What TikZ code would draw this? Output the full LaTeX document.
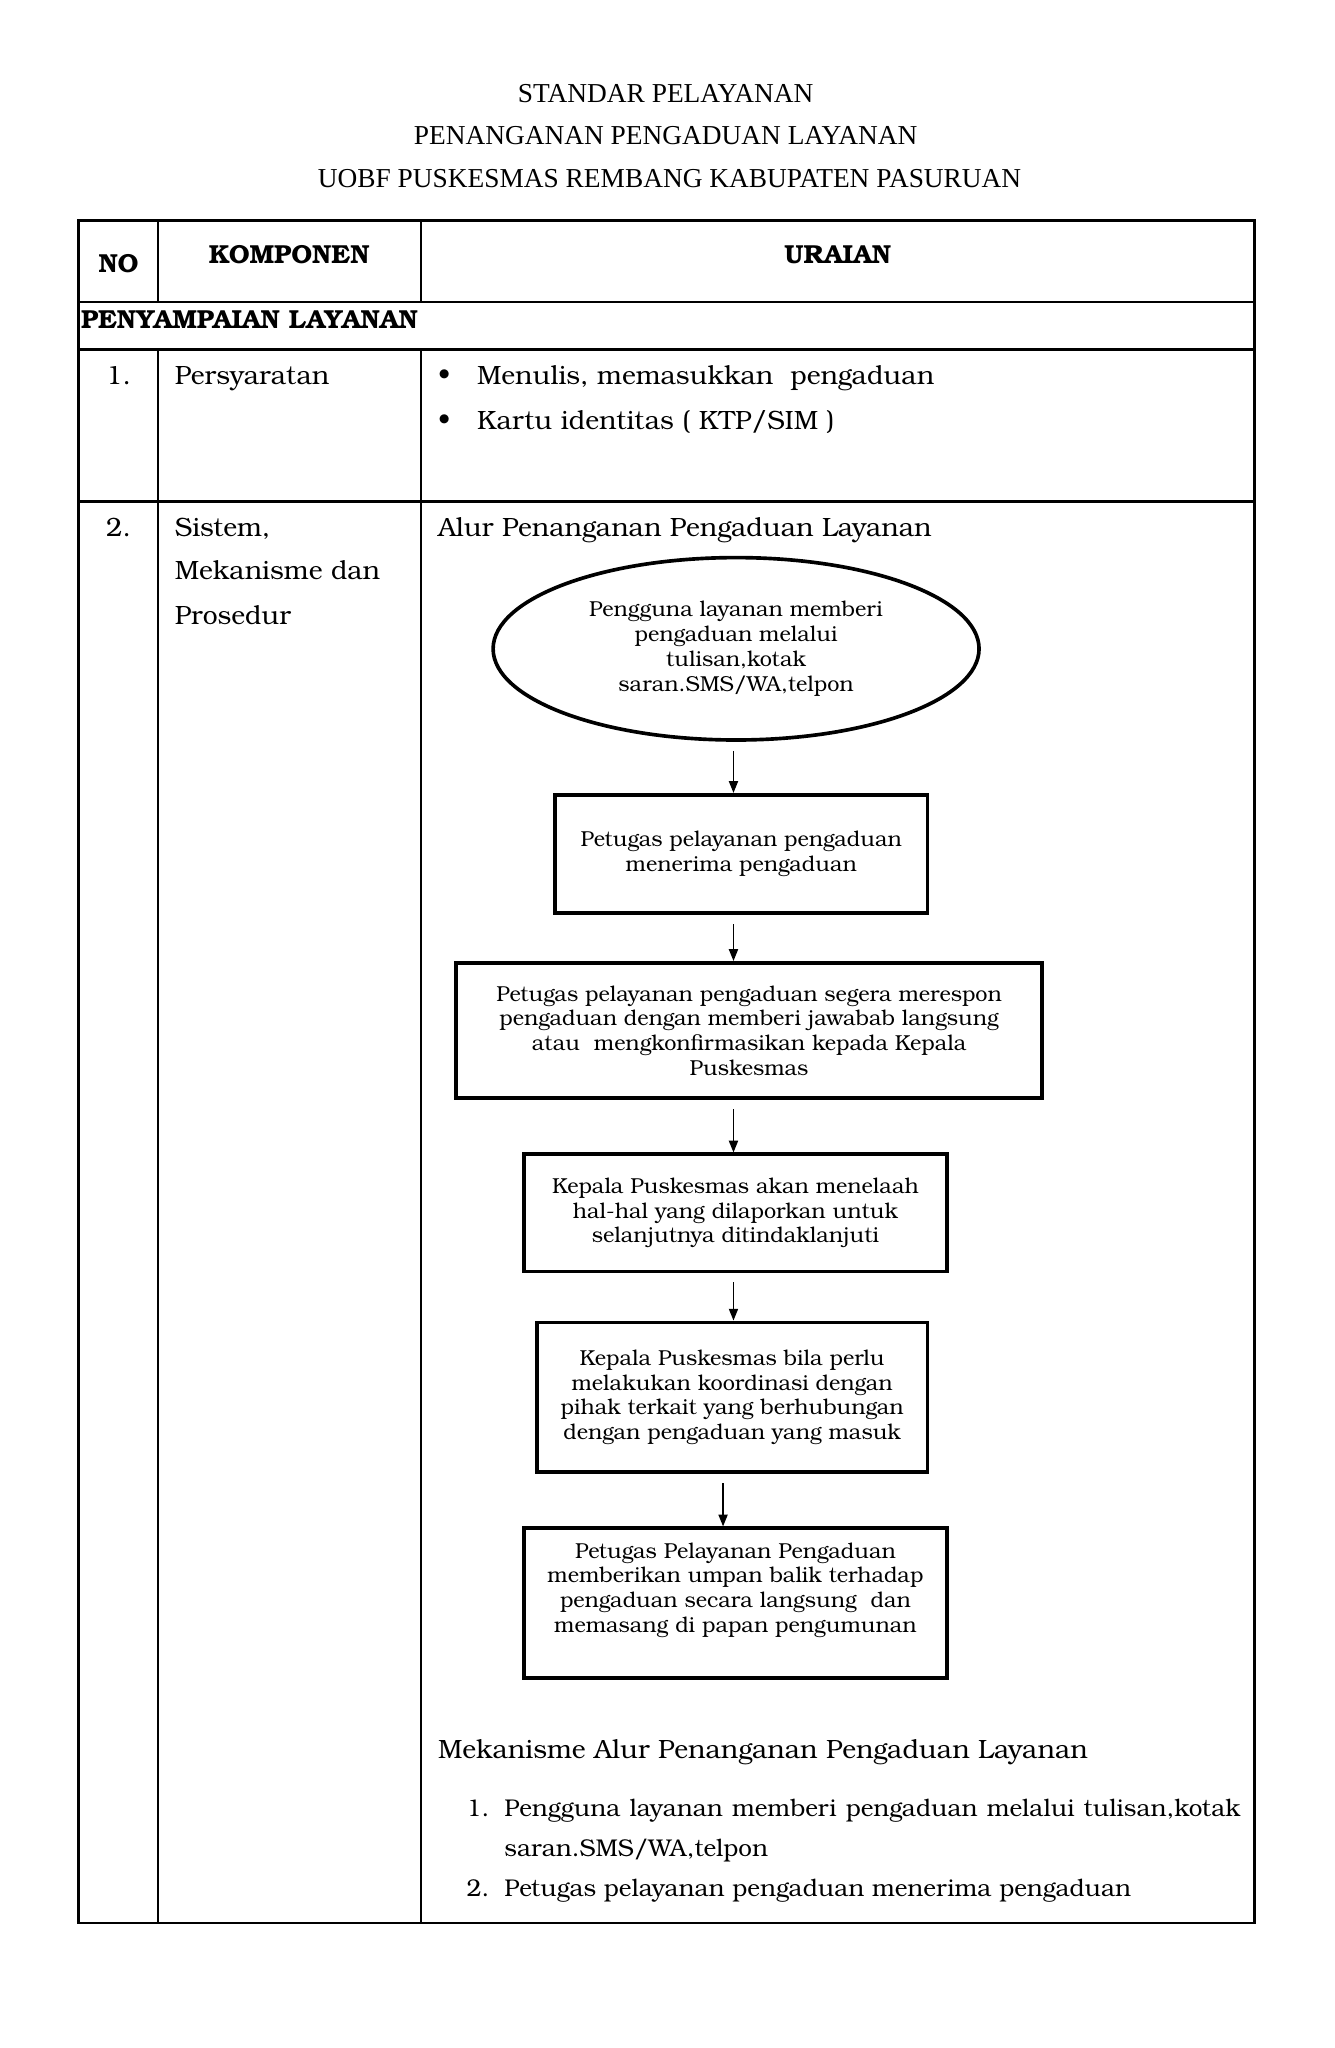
\documentclass[tikz,border=0pt]{standalone}
\usepackage{fontspec}
\setmainfont{TeX Gyre Bonum}
\newfontfamily\titlefont{Liberation Serif}
\usetikzlibrary{arrows.meta,shapes.geometric}
\begin{document}
\begin{tikzpicture}[x=1pt,y=-1pt,
  tline/.style={line width=1.6pt},
  touter/.style={line width=2.2pt},
  ttl/.style={font=\titlefont\fontsize{21}{24}\selectfont, anchor=base},
  hdr/.style={font=\bfseries\fontsize{20}{24}\selectfont, anchor=base},
  body/.style={font=\fontsize{20.3}{24}\selectfont, anchor=base west, inner sep=0pt},
  lst/.style={font=\fontsize{18.6}{22}\selectfont, anchor=base west, inner sep=0pt},
  flow/.style={draw, line width=2.8pt, align=center, inner sep=0pt,
    font=\fontsize{16.6}{19}\selectfont},
  arr/.style={line width=1.1pt, -{Triangle[length=9pt,width=7pt]}, shorten <=7pt}
]
\useasboundingbox (0,0) rectangle (1024,1572);
% title
\node[ttl] (t1) at (511,79) {STANDAR PELAYANAN};
\node[ttl] (t2) at (511,111) {PENANGANAN PENGADUAN LAYANAN};
\node[ttl] (t3) at (514,144) {UOBF PUSKESMAS REMBANG KABUPATEN PASURUAN};
% table
\draw[touter] (60,169) rectangle (963,1476);
\draw[tline] (60,232) -- (963,232);
\draw[touter] (60,268) -- (963,268);
\draw[touter] (60,385) -- (963,385);
\draw[tline] (121,169) -- (121,232);
\draw[tline] (323,169) -- (323,232);
\draw[tline] (121,268) -- (121,1476);
\draw[tline] (323,268) -- (323,1476);
% header
\node[hdr] (hno) at (91,209) {NO};
\node[hdr] (hkom) at (222,202) {KOMPONEN};
\node[hdr] (hur) at (643,202) {URAIAN};
\node[body, font=\bfseries\fontsize{20}{24}\selectfont] (sec) at (62,252) {PENYAMPAIAN LAYANAN};
% row 1
\node[body, anchor=base] (n1) at (91,295) {1.};
\node[body] (k1) at (134,295) {Persyaratan};
\node[body] (b1) at (336,295) {\textbullet};
\node[body] (u1) at (366,295) {Menulis, memasukkan\ \ pengaduan};
\node[body] (b2) at (336,330) {\textbullet};
\node[body] (u2) at (366,330) {Kartu identitas ( KTP/SIM )};
% row 2
\node[body, anchor=base] (n2) at (91,412) {2.};
\node[body] (k2a) at (134,412) {Sistem,};
\node[body] (k2b) at (134,445) {Mekanisme dan};
\node[body] (k2c) at (134,479) {Prosedur};
\node[body] (alur) at (336,412) {Alur Penanganan Pengaduan Layanan};
% flowchart
\node[flow, ellipse, minimum width=373pt, minimum height=140pt] (E) at (565,498)
  {Pengguna layanan memberi\\pengaduan melalui\\tulisan,kotak\\saran.SMS/WA,telpon};
\node[flow, rectangle, minimum width=286pt, minimum height=91pt] (B2) at (569,655.5)
  {Petugas pelayanan pengaduan\\menerima pengaduan};
\node[flow, rectangle, minimum width=450pt, minimum height=104pt] (B3) at (575,791)
  {Petugas pelayanan pengaduan segera merespon\\pengaduan dengan memberi jawabab langsung\\atau\ \ mengkonfirmasikan kepada Kepala\\Puskesmas};
\node[flow, rectangle, minimum width=325pt, minimum height=90pt] (B4) at (564.5,931)
  {Kepala Puskesmas akan menelaah\\hal-hal yang dilaporkan untuk\\selanjutnya ditindaklanjuti};
\node[flow, rectangle, minimum width=300pt, minimum height=115pt] (B5) at (562,1072.5)
  {Kepala Puskesmas bila perlu\\melakukan koordinasi dengan\\pihak terkait yang berhubungan\\dengan pengaduan yang masuk};
\node[flow, rectangle, minimum width=325pt, minimum height=115pt] (B6) at (564.5,1230.5)
  {Petugas Pelayanan Pengaduan\\memberikan umpan balik terhadap\\pengaduan secara langsung\ \ dan\\memasang di papan pengumunan\\[5pt]\mbox{}};
\draw[arr] ([xshift=-2pt]E.south) -- ([xshift=-2pt]E.south |- B2.north);
\draw[arr] ([xshift=-6pt]B2.south) -- ([xshift=-6pt]B2.south |- B3.north);
\draw[arr] ([xshift=-12pt]B3.south) -- ([xshift=-12pt]B3.south |- B4.north);
\draw[arr] ([xshift=-1.5pt]B4.south) -- ([xshift=-1.5pt]B4.south |- B5.north);
\draw[arr] ([xshift=-7pt]B5.south) -- ([xshift=-7pt]B5.south |- B6.north);
% mekanisme
\node[body] (mek) at (336,1350) {Mekanisme Alur Penanganan Pengaduan Layanan};
\node[lst] (m1n) at (358,1394) {1.};
\node[lst] (m1) at (387,1394) {\makebox[565pt][s]{Pengguna layanan memberi pengaduan melalui tulisan,kotak}};
\node[lst] (m1b) at (387,1425) {saran.SMS/WA,telpon};
\node[lst] (m2n) at (358,1456) {2.};
\node[lst] (m2) at (387,1456) {Petugas pelayanan pengaduan menerima pengaduan};
\end{tikzpicture}
\end{document}
